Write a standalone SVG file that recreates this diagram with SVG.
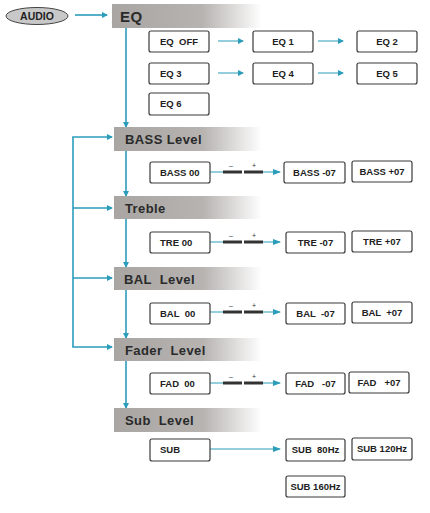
<svg xmlns="http://www.w3.org/2000/svg" width="430" height="513" viewBox="0 0 430 513">
<style>
.hdr{font-family:"Liberation Sans",Arial,sans-serif;font-weight:bold;font-size:13px;fill:#2a2a2a;letter-spacing:0.4px;white-space:pre}
.box{fill:#fff;stroke:#3a3a3a;stroke-width:1.2}
.bt{font-family:"Liberation Sans",Arial,sans-serif;font-weight:bold;font-size:9.5px;fill:#222;white-space:pre}
.c{text-anchor:middle}
.ln{stroke:#2b9dbb;stroke-width:1.6;fill:none}
.thin{stroke:#2b9dbb;stroke-width:1;fill:none}
.bar{stroke:#333;stroke-width:3}
.pm{font-family:"Liberation Sans",Arial,sans-serif;font-size:7px;fill:#333;text-anchor:middle}
</style>
<defs>
<linearGradient id="g" x1="0" y1="0" x2="1" y2="0">
<stop offset="0" stop-color="#a8a5a3"/>
<stop offset="0.6" stop-color="#b6b3b1"/>
<stop offset="1" stop-color="#ffffff"/>
</linearGradient>
<marker id="a" markerWidth="6" markerHeight="6" refX="5" refY="3" orient="auto" markerUnits="userSpaceOnUse">
<path d="M0,0 L6,3 L0,6 z" fill="#2b9dbb"/>
</marker>
<marker id="as" markerWidth="8" markerHeight="6" refX="7" refY="3" orient="auto" markerUnits="userSpaceOnUse">
<path d="M0,0 L8,3 L0,6 z" fill="#2b9dbb"/>
</marker>
</defs>

<g id="connectors">
<line class="ln" x1="75" y1="15" x2="107" y2="15" marker-end="url(#a)"/>
<line class="ln" x1="126" y1="28" x2="126" y2="127" marker-end="url(#a)"/>
<line class="ln" x1="126" y1="151" x2="126" y2="196" marker-end="url(#a)"/>
<line class="ln" x1="126" y1="219" x2="126" y2="267" marker-end="url(#a)"/>
<line class="ln" x1="126" y1="290" x2="126" y2="338" marker-end="url(#a)"/>
<line class="ln" x1="126" y1="361" x2="126" y2="408" marker-end="url(#a)"/>
<line class="ln" x1="73" y1="137" x2="73" y2="347"/>
<line class="ln" x1="72.2" y1="137" x2="112" y2="137" marker-end="url(#a)"/>
<line class="ln" x1="73" y1="208" x2="112" y2="208" marker-end="url(#a)"/>
<line class="ln" x1="73" y1="278" x2="112" y2="278" marker-end="url(#a)"/>
<line class="ln" x1="72.2" y1="347" x2="112" y2="347" marker-end="url(#a)"/>
<line class="thin" x1="218" y1="41" x2="243" y2="41" marker-end="url(#a)"/>
<line class="thin" x1="318" y1="41" x2="343" y2="41" marker-end="url(#a)"/>
<line class="thin" x1="218" y1="73" x2="243" y2="73" marker-end="url(#a)"/>
<line class="thin" x1="318" y1="73" x2="343" y2="73" marker-end="url(#a)"/>
<g id="slider-bass">
<line class="thin" x1="210" y1="172" x2="223" y2="172"/>
<line class="bar" x1="223" y1="172" x2="242" y2="172"/>
<line class="bar" x1="244" y1="172" x2="263" y2="172"/>
<line class="thin" x1="263" y1="172" x2="280" y2="172" marker-end="url(#as)"/>
<text class="pm" x="231" y="168">–</text><text class="pm" x="254" y="168">+</text>
</g>
<g id="slider-tre">
<line class="thin" x1="210" y1="242" x2="223" y2="242"/>
<line class="bar" x1="223" y1="242" x2="242" y2="242"/>
<line class="bar" x1="244" y1="242" x2="263" y2="242"/>
<line class="thin" x1="263" y1="242" x2="280" y2="242" marker-end="url(#as)"/>
<text class="pm" x="231" y="238">–</text><text class="pm" x="254" y="238">+</text>
</g>
<g id="slider-bal">
<line class="thin" x1="210" y1="312" x2="223" y2="312"/>
<line class="bar" x1="223" y1="312" x2="242" y2="312"/>
<line class="bar" x1="244" y1="312" x2="263" y2="312"/>
<line class="thin" x1="263" y1="312" x2="280" y2="312" marker-end="url(#as)"/>
<text class="pm" x="231" y="308">–</text><text class="pm" x="254" y="308">+</text>
</g>
<g id="slider-fad">
<line class="thin" x1="210" y1="383" x2="223" y2="383"/>
<line class="bar" x1="223" y1="383" x2="242" y2="383"/>
<line class="bar" x1="244" y1="383" x2="263" y2="383"/>
<line class="thin" x1="263" y1="383" x2="280" y2="383" marker-end="url(#as)"/>
<text class="pm" x="231" y="379">–</text><text class="pm" x="254" y="379">+</text>
</g>
<line class="thin" x1="210" y1="449" x2="280" y2="449" marker-end="url(#as)"/>
</g>

<g id="audio">
<ellipse cx="37" cy="16" rx="31" ry="8.5" fill="#c8c8c8" stroke="#444" stroke-width="1"/>
<text class="bt c" x="37" y="20" style="font-size:10.5px">AUDIO</text>
</g>

<g id="eq-header"><rect x="112" y="4" width="150" height="24" fill="url(#g)"/><text class="hdr" x="120" y="22" style="font-size:15px">EQ</text></g>
<g id="bass-header"><rect x="114" y="127" width="148" height="24" fill="url(#g)"/><text class="hdr" x="125" y="144">BASS Level</text></g>
<g id="treble-header"><rect x="114" y="196" width="148" height="23" fill="url(#g)"/><text class="hdr" x="125" y="213">Treble</text></g>
<g id="bal-header"><rect x="114" y="267" width="148" height="23" fill="url(#g)"/><text class="hdr" x="124" y="284">BAL  Level</text></g>
<g id="fader-header"><rect x="114" y="338" width="148" height="23" fill="url(#g)"/><text class="hdr" x="125" y="355">Fader  Level</text></g>
<g id="sub-header"><rect x="114" y="408" width="148" height="24" fill="url(#g)"/><text class="hdr" x="125" y="425">Sub  Level</text></g>

<g id="eq-off"><rect class="box" x="149" y="31" width="60" height="21" rx="2"/><text class="bt" x="160" y="45">EQ  OFF</text></g>
<g id="eq1"><rect class="box" x="253" y="31" width="60" height="21" rx="2"/><text class="bt c" x="283" y="45">EQ 1</text></g>
<g id="eq2"><rect class="box" x="357" y="31" width="60" height="21" rx="2"/><text class="bt c" x="387" y="45">EQ 2</text></g>
<g id="eq3"><rect class="box" x="149" y="63" width="60" height="21" rx="2"/><text class="bt" x="160" y="77">EQ 3</text></g>
<g id="eq4"><rect class="box" x="253" y="63" width="60" height="21" rx="2"/><text class="bt c" x="283" y="77">EQ 4</text></g>
<g id="eq5"><rect class="box" x="357" y="63" width="60" height="21" rx="2"/><text class="bt c" x="387" y="77">EQ 5</text></g>
<g id="eq6"><rect class="box" x="149" y="93" width="60" height="22" rx="2"/><text class="bt" x="160" y="107">EQ 6</text></g>

<g id="bass00"><rect class="box" x="150" y="162" width="60" height="21" rx="2"/><text class="bt" x="160" y="176">BASS 00</text></g>
<g id="bass-07"><rect class="box" x="284" y="162" width="61" height="21" rx="2"/><text class="bt c" x="314.5" y="176">BASS -07</text></g>
<g id="bass+07"><rect class="box" x="352" y="161" width="60" height="21" rx="2"/><text class="bt c" x="382" y="175">BASS +07</text></g>

<g id="tre00"><rect class="box" x="150" y="232" width="60" height="21" rx="2"/><text class="bt" x="160" y="246">TRE 00</text></g>
<g id="tre-07"><rect class="box" x="286" y="232" width="59" height="21" rx="2"/><text class="bt c" x="315.5" y="246">TRE -07</text></g>
<g id="tre+07"><rect class="box" x="352" y="231" width="60" height="21" rx="2"/><text class="bt c" x="382" y="245">TRE +07</text></g>

<g id="bal00"><rect class="box" x="150" y="303" width="60" height="21" rx="2"/><text class="bt" x="160" y="317">BAL  00</text></g>
<g id="bal-07"><rect class="box" x="286" y="303" width="59" height="21" rx="2"/><text class="bt c" x="315.5" y="317">BAL  -07</text></g>
<g id="bal+07"><rect class="box" x="352" y="302" width="60" height="21" rx="2"/><text class="bt c" x="382" y="316">BAL  +07</text></g>

<g id="fad00"><rect class="box" x="150" y="373" width="60" height="21" rx="2"/><text class="bt" x="160" y="387">FAD  00</text></g>
<g id="fad-07"><rect class="box" x="286" y="373" width="59" height="21" rx="2"/><text class="bt c" x="315.5" y="387">FAD   -07</text></g>
<g id="fad+07"><rect class="box" x="349" y="372" width="60" height="21" rx="2"/><text class="bt c" x="379" y="386">FAD   +07</text></g>

<g id="sub"><rect class="box" x="150" y="439" width="60" height="22" rx="2"/><text class="bt" x="160" y="453">SUB</text></g>
<g id="sub80"><rect class="box" x="286" y="439" width="59" height="22" rx="2"/><text class="bt c" x="315.5" y="453">SUB  80Hz</text></g>
<g id="sub120"><rect class="box" x="352" y="438" width="60" height="22" rx="2"/><text class="bt c" x="382" y="452">SUB 120Hz</text></g>
<g id="sub160"><rect class="box" x="286" y="476" width="59" height="21" rx="2"/><text class="bt c" x="315.5" y="490">SUB 160Hz</text></g>
</svg>
